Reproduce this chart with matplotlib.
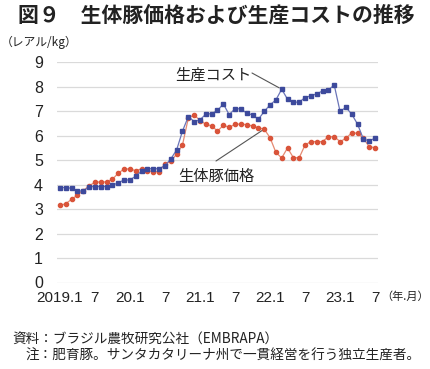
import matplotlib

matplotlib.use("Agg")
import matplotlib.pyplot as plt
import numpy as np

plt.rcParams["font.family"] = ["Noto Sans CJK JP", "DejaVu Sans"]

W, H = 430, 369
BLUE = "#3d4a9c"
BLUE_LINE = "#6a74b8"
RED = "#d9543a"
RED_LINE = "#e58a72"
GRID = "#dadada"
TEXT = "#222222"
NUM_FONT = ["Liberation Sans Narrow", "Liberation Sans", "DejaVu Sans"]

# monthly, 2019.1 .. 2023.7 (reais/kg)
cost = [3.88, 3.88, 3.85, 3.75, 3.73, 3.92, 3.92, 3.92, 3.92, 3.97,
        4.08, 4.19, 4.19, 4.35, 4.55, 4.65, 4.65, 4.65, 4.78, 5.05,
        5.42, 6.19, 6.78, 6.58, 6.65, 6.88, 6.90, 7.03, 7.30, 6.86,
        7.10, 7.10, 6.92, 6.85, 6.67, 6.99, 7.26, 7.46, 7.90, 7.49,
        7.37, 7.37, 7.56, 7.63, 7.71, 7.83, 7.87, 8.07, 6.99, 7.16,
        6.88, 6.47, 5.86, 5.79, 5.90]
price = [3.15, 3.22, 3.40, 3.57, 3.76, 3.95, 4.10, 4.11, 4.11, 4.22,
         4.47, 4.64, 4.64, 4.57, 4.65, 4.57, 4.53, 4.53, 4.85, 4.95,
         5.25, 5.62, 6.72, 6.85, 6.62, 6.47, 6.40, 6.19, 6.42, 6.35,
         6.46, 6.48, 6.45, 6.40, 6.32, 6.27, 5.92, 5.32, 5.09, 5.50,
         5.10, 5.10, 5.62, 5.76, 5.76, 5.76, 5.96, 5.96, 5.76, 5.89,
         6.12, 6.10, 5.89, 5.55, 5.51]
xtick_labels = ["2019.1", "7", "20.1", "7", "21.1", "7", "22.1", "7", "23.1", "7"]
yticks = list(range(0, 10))


def fx(x):
    return x / W


def fy(y):
    return 1 - y / H


fig = plt.figure(figsize=(W / 100, H / 100), dpi=100)
fig.patch.set_facecolor("white")
ax = fig.add_axes([fx(57), fy(282.5), fx(378) - fx(57), fy(62.3) - fy(282.5)])

x = np.arange(len(cost))
ax.plot(x, price, color=RED_LINE, lw=0.9, zorder=2)
ax.plot(x, price, ls="none", marker="o", ms=3.0, color=RED, mec=RED, zorder=3)
ax.plot(x, cost, color=BLUE_LINE, lw=0.9, zorder=4)
ax.plot(x, cost, ls="none", marker="s", ms=2.8, color=BLUE, mec=BLUE, zorder=5)

ax.set_xlim(-0.5, len(cost) - 0.5)
ax.set_ylim(0, 9)
ax.set_yticks(yticks)
ax.set_yticklabels([str(v) for v in yticks], family=NUM_FONT, fontsize=11.5, color=TEXT)
ax.set_xticks(np.arange(0, len(cost), 6))
ax.set_xticklabels(xtick_labels, family=NUM_FONT, fontsize=11, color=TEXT)
ax.tick_params(length=0)
ax.tick_params(axis="y", pad=10)
ax.tick_params(axis="x", pad=6)
for s in ax.spines.values():
    s.set_visible(False)
ax.yaxis.grid(True, color=GRID, lw=0.9)
ax.set_axisbelow(True)

# labels with leader lines
fig.text(fx(213), fy(75), "生産コスト", fontsize=11, color=TEXT, ha="center", va="center")
ax.annotate("", xy=(38, cost[38]), xytext=(252, H - 73), textcoords="figure pixels",
            arrowprops=dict(arrowstyle="-", color="#555555", lw=0.8, shrinkA=0, shrinkB=2))
fig.text(fx(216), fy(176), "生体豚価格", fontsize=11, color=TEXT, ha="center", va="center")
ax.annotate("", xy=(35, price[35]), xytext=(216, H - 161), textcoords="figure pixels",
            arrowprops=dict(arrowstyle="-", color="#555555", lw=0.8, shrinkA=0, shrinkB=2))

fig.text(fx(18), fy(15), "図９　生体豚価格および生産コストの推移", fontsize=15,
         fontweight="bold", color=TEXT, ha="left", va="center")
fig.text(fx(1), fy(42), "（レアル/kg）", fontsize=8.5, color=TEXT, ha="left", va="center")
fig.text(fx(381), fy(297), "（年.月）", fontsize=8, color=TEXT, ha="left", va="center")

fig.text(fx(12), fy(340), "資料：ブラジル農牧研究公社（EMBRAPA）", fontsize=9.8,
         color=TEXT, ha="left", va="center")
fig.text(fx(26), fy(356), "注：肥育豚。サンタカタリーナ州で一貫経営を行う独立生産者。",
         fontsize=9.8, color=TEXT, ha="left", va="center")

fig.savefig("out.png", dpi=100, facecolor="white")
